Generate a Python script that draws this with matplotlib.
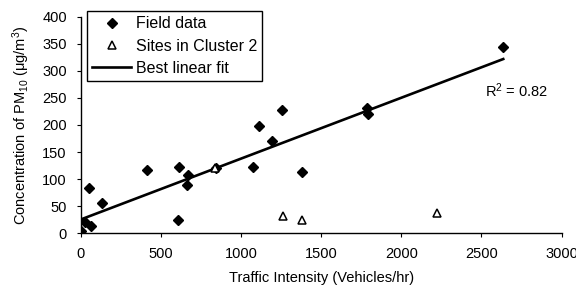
import numpy as np
import matplotlib
matplotlib.use('Agg')
import matplotlib.pyplot as plt

plt.rcParams.update({
    'font.family': ['Liberation Sans', 'DejaVu Sans'],
    'font.size': 10.5,
    'mathtext.fontset': 'custom',
    'mathtext.rm': 'Liberation Sans',
    'mathtext.it': 'Liberation Sans:italic',
    'axes.spines.top': False,
    'axes.spines.right': False,
})

# Field data (diamonds)
field_x = [0, 27, 62, 54, 135, 415, 609, 611, 661, 671, 845, 1073, 1112, 1195, 1254,
           1378, 1785, 1790, 2636]
field_y = [3, 21, 13, 84, 56, 117, 25, 123, 89, 108, 120, 123, 198, 170, 228,
           113, 232, 220, 345]

# Sites in Cluster 2 (open triangles)
cluster_x = [838, 1260, 1381, 2221]
cluster_y = [120, 31, 24, 38]

# Best linear fit
fit_intercept = 25
fit_slope = 0.1127
fit_range = [0, 2636]
r2_text = 'R$^2$ = 0.82'

x_ticks = [0, 500, 1000, 1500, 2000, 2500, 3000]
y_ticks = [0, 50, 100, 150, 200, 250, 300, 350, 400]

fig = plt.figure(figsize=(5.76, 2.87), dpi=100)
ax = fig.add_axes([0.140, 0.188, 0.835, 0.753])

ax.plot(field_x, field_y, linestyle='none', marker='D', markersize=5,
        color='black', label='Field data', zorder=3)
ax.plot(cluster_x, cluster_y, linestyle='none', marker='^', markersize=5.5,
        markerfacecolor='white', markeredgecolor='black', markeredgewidth=1.1,
        label='Sites in Cluster 2', zorder=4)
fx = np.array(fit_range)
ax.plot(fx, fit_intercept + fit_slope * fx, color='black', linewidth=1.9,
        label='Best linear fit', zorder=2)

ax.text(2720, 263, r2_text, ha='center', va='center', fontsize=10.5)

ax.set_xlim(0, 3000)
ax.set_ylim(0, 400)
ax.set_xticks(x_ticks)
ax.set_yticks(y_ticks)
ax.tick_params(direction='out', length=3, width=0.8, pad=7)
for s in ax.spines.values():
    s.set_linewidth(1.0)

ax.set_xlabel('Traffic Intensity (Vehicles/hr)', labelpad=7)
ax.set_ylabel('Concentration of PM$_{10}$ (\u03bcg/m$^3$)', labelpad=7)

leg = ax.legend(loc='upper left', bbox_to_anchor=(0.013, 1.028), frameon=True,
                fancybox=False, edgecolor='black', framealpha=1,
                fontsize=11.5, handlelength=2.4, handletextpad=0.3,
                borderpad=0.35, labelspacing=0.45, borderaxespad=0)
leg.get_frame().set_linewidth(1.0)

fig.savefig('out.png', dpi=100)
